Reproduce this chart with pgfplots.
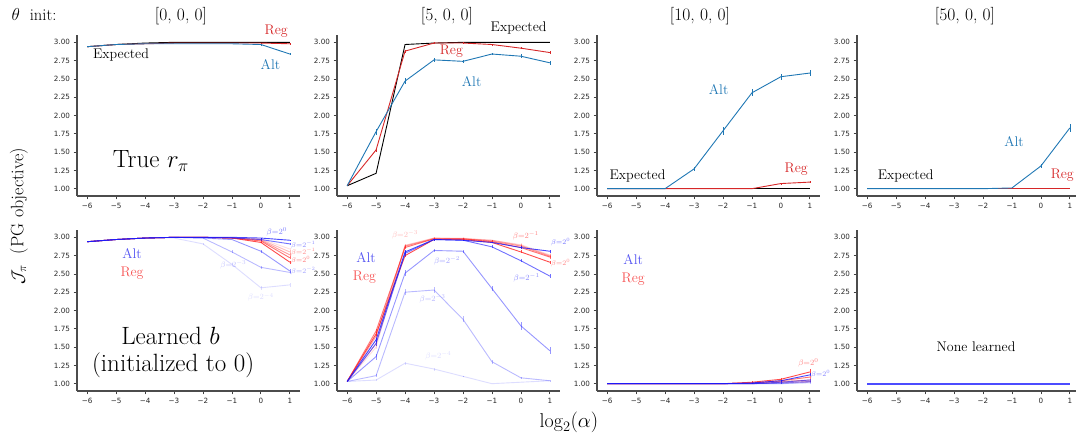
\documentclass[border=0pt]{standalone}
\usepackage{fontspec}
\usepackage{pgfplots}
\pgfplotsset{compat=1.18}
\newfontfamily\dejavu{DejaVu Sans}
\definecolor{tabblue}{HTML}{1F77B4}
\definecolor{tabred}{HTML}{D62728}
\definecolor{lb}{rgb}{0.1,0.1,1}
\definecolor{lr}{rgb}{1,0.12,0.12}
\definecolor{flatb}{rgb}{0.3,0.3,1}
\definecolor{altc}{rgb}{0.33,0.33,0.95}
\definecolor{regc}{rgb}{0.97,0.33,0.33}
\newcommand{\fs}[1]{\fontsize{#1}{#1}\selectfont}
\newcommand{\bl}[1]{$\beta$=$2^{#1}$}
\pgfplotsset{
 panel/.style={scale only axis, width=223pt, height=161pt,
  xmin=-6.35, xmax=1.35, ymin=0.9, ymax=3.1,
  axis x line*=bottom, axis y line*=left,
  axis line style={draw=black!70, line width=1.1pt},
  xtick={-6,-5,-4,-3,-2,-1,0,1},
  xticklabels={−6,−5,−4,−3,−2,−1,0,1},
  ytick={1,1.25,1.5,1.75,2,2.25,2.5,2.75,3},
  yticklabels={1.00,1.25,1.50,1.75,2.00,2.25,2.50,2.75,3.00},
  tick align=outside, major tick length=3.5pt,
  tick style={black!75, line width=0.8pt},
  ticklabel style={font=\dejavu\fs{7.2}, text=black!85},
  clip=false, anchor=south west},
 eb/.style={error bars/y dir=both, error bars/y explicit, error bars/error mark=none},
 tl/.style={line width=0.9pt},
 B0/.style={draw=lb, draw opacity=0.8, line width=0.9pt, eb},
 B1/.style={draw=lb, draw opacity=0.62, line width=0.9pt, eb},
 B2/.style={draw=lb, draw opacity=0.45, line width=0.9pt, eb},
 B3/.style={draw=lb, draw opacity=0.3, line width=0.9pt, eb},
 B4/.style={draw=lb, draw opacity=0.15, line width=0.9pt, eb},
 R0/.style={draw=lr, draw opacity=0.8, line width=0.9pt, eb},
 R1/.style={draw=lr, draw opacity=0.62, line width=0.9pt, eb},
 R2/.style={draw=lr, draw opacity=0.45, line width=0.9pt, eb},
 R3/.style={draw=lr, draw opacity=0.3, line width=0.9pt, eb},
 R4/.style={draw=lr, draw opacity=0.15, line width=0.9pt, eb},
}
\begin{document}
\begin{tikzpicture}
\useasboundingbox (0,0) rectangle (1076pt,436pt);
\node[font=\fs{16.5}] at (34pt,421pt) {$\theta$\ \ init:};
\node[font=\fs{17.5}] at (181pt,420pt) {[0, 0, 0]};
\node[font=\fs{17.5}] at (447pt,420pt) {[5, 0, 0]};
\node[font=\fs{17.5}] at (700pt,420pt) {[10, 0, 0]};
\node[font=\fs{17.5}] at (965pt,420pt) {[50, 0, 0]};
\node[font=\fs{18}, rotate=90] at (19pt,220pt) {$\mathcal{J}_\pi$\ \ (PG objective)};
\node[font=\fs{20}] at (569pt,14pt) {$\log_2(\alpha)$};

% ===== top 1 =====
\begin{axis}[panel, at={(77pt,240pt)}]
\addplot[black, tl] coordinates {(-6,2.94)(-5,2.97)(-4,2.99)(-3,3.0)(-2,3.0)(-1,3.0)(0,3.0)(1,3.0)};
\addplot[tabred, tl, eb] coordinates {(-6,2.94)+-(0,0)(-5,2.97)+-(0,0)(-4,2.98)+-(0,0)(-3,2.99)+-(0,0)(-2,2.99)+-(0,0)(-1,2.99)+-(0,0)(0,2.99)+-(0,0.005)(1,2.98)+-(0,0.008)};
\addplot[tabblue, tl, eb] coordinates {(-6,2.94)+-(0,0)(-5,2.97)+-(0,0)(-4,2.98)+-(0,0)(-3,2.98)+-(0,0)(-2,2.98)+-(0,0)(-1,2.98)+-(0,0)(0,2.97)+-(0,0.01)(1,2.84)+-(0,0.015)};
\node[font=\fs{14}, text=tabred] at (axis cs:0.53,3.15) {Reg};
\node[font=\fs{14}, text=tabblue] at (axis cs:0.33,2.70) {Alt};
\node[font=\fs{14}] at (axis cs:-4.83,2.82) {Expected};
\node[font=\fs{25}] at (axis cs:-3.8,1.38) {True $r_\pi$};
\end{axis}

% ===== top 2 =====
\begin{axis}[panel, at={(337pt,240pt)}]
\addplot[black, tl] coordinates {(-6,1.04)(-5,1.21)(-4,2.97)(-3,2.99)(-2,3.0)(-1,3.0)(0,3.0)(1,3.0)};
\addplot[tabred, tl, eb] coordinates {(-6,1.04)+-(0,0)(-5,1.53)+-(0,0.03)(-4,2.88)+-(0,0.02)(-3,2.99)+-(0,0.01)(-2,2.99)+-(0,0.01)(-1,2.97)+-(0,0.01)(0,2.92)+-(0,0.01)(1,2.86)+-(0,0.02)};
\addplot[tabblue, tl, eb] coordinates {(-6,1.04)+-(0,0)(-5,1.78)+-(0,0.04)(-4,2.47)+-(0,0.04)(-3,2.76)+-(0,0.03)(-2,2.74)+-(0,0.02)(-1,2.84)+-(0,0.02)(0,2.81)+-(0,0.03)(1,2.72)+-(0,0.03)};
\node[font=\fs{14}] at (axis cs:-0.08,3.19) {Expected};
\node[font=\fs{14}, text=tabred] at (axis cs:-2.4,2.88) {Reg};
\node[font=\fs{14}, text=tabblue] at (axis cs:-1.7,2.47) {Alt};
\end{axis}

% ===== top 3 =====
\begin{axis}[panel, at={(597pt,240pt)}]
\addplot[black, tl] coordinates {(-6,1)(-5,1)(-4,1)(-3,1)(-2,1)(-1,1)(0,1)(1,1)};
\addplot[tabred, tl, eb] coordinates {(-6,1)+-(0,0)(-5,1)+-(0,0)(-4,1)+-(0,0)(-3,1)+-(0,0)(-2,1)+-(0,0)(-1,1)+-(0,0)(0,1.07)+-(0,0.01)(1,1.09)+-(0,0.015)};
\addplot[tabblue, tl, eb] coordinates {(-6,1)+-(0,0)(-5,1)+-(0,0)(-4,1)+-(0,0)(-3,1.27)+-(0,0.03)(-2,1.79)+-(0,0.05)(-1,2.31)+-(0,0.05)(0,2.53)+-(0,0.04)(1,2.58)+-(0,0.04)};
\node[font=\fs{14}, text=tabblue] at (axis cs:-2.15,2.36) {Alt};
\node[font=\fs{14}, text=tabred] at (axis cs:0.53,1.26) {Reg};
\node[font=\fs{14}] at (axis cs:-4.95,1.17) {Expected};
\end{axis}

% ===== top 4 =====
\begin{axis}[panel, at={(857pt,240pt)}]
\addplot[black, tl] coordinates {(-6,1)(-5,1)(-4,1)(-3,1)(-2,1)(-1,1)(0,1)(1,1)};
\addplot[tabred, tl] coordinates {(-6,1)(-5,1)(-4,1)(-3,1)(-2,1)(-1,1)(0,1)(1,1)};
\addplot[tabblue, tl, eb] coordinates {(-6,1)+-(0,0)(-5,1)+-(0,0)(-4,1)+-(0,0)(-3,1)+-(0,0)(-2,1)+-(0,0)(-1,1.01)+-(0,0)(0,1.31)+-(0,0.03)(1,1.83)+-(0,0.06)};
\node[font=\fs{14}, text=tabblue] at (axis cs:-0.93,1.64) {Alt};
\node[font=\fs{14}] at (axis cs:-4.67,1.18) {Expected};
\node[font=\fs{14}, text=tabred] at (axis cs:0.74,1.18) {Reg};
\end{axis}

% ===== bottom 1 =====
\begin{axis}[panel, at={(77pt,45pt)}]
\addplot[R4] coordinates {(-6,2.94)+-(0,0)(-5,2.97)+-(0,0)(-4,2.99)+-(0,0)(-3,3.0)+-(0,0)(-2,3.0)+-(0,0)(-1,2.99)+-(0,0)(0,2.98)+-(0,0.01)(1,2.84)+-(0,0.02)};
\addplot[R3] coordinates {(-6,2.94)+-(0,0)(-5,2.97)+-(0,0)(-4,2.99)+-(0,0)(-3,3.0)+-(0,0)(-2,3.0)+-(0,0)(-1,2.99)+-(0,0)(0,2.97)+-(0,0.01)(1,2.80)+-(0,0.02)};
\addplot[R2] coordinates {(-6,2.94)+-(0,0)(-5,2.97)+-(0,0)(-4,2.99)+-(0,0)(-3,3.0)+-(0,0)(-2,3.0)+-(0,0)(-1,2.99)+-(0,0)(0,2.96)+-(0,0.01)(1,2.76)+-(0,0.02)};
\addplot[R1] coordinates {(-6,2.94)+-(0,0)(-5,2.97)+-(0,0)(-4,2.99)+-(0,0)(-3,3.0)+-(0,0)(-2,3.0)+-(0,0)(-1,2.99)+-(0,0)(0,2.95)+-(0,0.01)(1,2.72)+-(0,0.02)};
\addplot[R0] coordinates {(-6,2.94)+-(0,0)(-5,2.97)+-(0,0)(-4,2.99)+-(0,0)(-3,3.0)+-(0,0)(-2,3.0)+-(0,0)(-1,2.99)+-(0,0)(0,2.93)+-(0,0.01)(1,2.66)+-(0,0.02)};
\addplot[B4] coordinates {(-6,2.94)+-(0,0)(-5,2.97)+-(0,0)(-4,2.99)+-(0,0)(-3,2.99)+-(0,0)(-2,2.91)+-(0,0.01)(-1,2.63)+-(0,0.02)(0,2.31)+-(0,0.03)(1,2.35)+-(0,0.03)};
\addplot[B3] coordinates {(-6,2.94)+-(0,0)(-5,2.97)+-(0,0)(-4,2.99)+-(0,0)(-3,3.0)+-(0,0)(-2,2.99)+-(0,0)(-1,2.80)+-(0,0.02)(0,2.59)+-(0,0.02)(1,2.52)+-(0,0.02)};
\addplot[B2] coordinates {(-6,2.94)+-(0,0)(-5,2.97)+-(0,0)(-4,2.99)+-(0,0)(-3,3.0)+-(0,0)(-2,2.99)+-(0,0)(-1,2.97)+-(0,0)(0,2.81)+-(0,0.02)(1,2.54)+-(0,0.03)};
\addplot[B1] coordinates {(-6,2.94)+-(0,0)(-5,2.97)+-(0,0)(-4,2.99)+-(0,0)(-3,3.0)+-(0,0)(-2,3.0)+-(0,0)(-1,2.99)+-(0,0)(0,2.97)+-(0,0.01)(1,2.91)+-(0,0.015)};
\addplot[B0] coordinates {(-6,2.94)+-(0,0)(-5,2.97)+-(0,0)(-4,2.99)+-(0,0)(-3,3.0)+-(0,0)(-2,3.0)+-(0,0)(-1,3.0)+-(0,0)(0,2.99)+-(0,0.005)(1,2.96)+-(0,0.01)};
\node[font=\fs{14}, text=altc] at (axis cs:-4.45,2.78) {Alt};
\node[font=\fs{14}, text=regc] at (axis cs:-4.45,2.51) {Reg};
\node[font=\fs{25}] at (axis cs:-3.12,1.65) {Learned $b$};
\node[font=\fs{25}] at (axis cs:-3.03,1.245) {(initialized to 0)};
\node[font=\fs{8}, text=lb, text opacity=0.55] at (axis cs:0.55,3.08) {\bl{0}};
\node[font=\fs{7.5}, text=lb, text opacity=0.5, anchor=west, inner sep=0pt] at (axis cs:1.04,2.895) {\bl{-1}};
\node[font=\fs{7.5}, text=lr, text opacity=0.5, anchor=west, inner sep=0pt] at (axis cs:1.04,2.80) {\bl{-1}};
\node[font=\fs{7.5}, text=lr, text opacity=0.6, anchor=west, inner sep=0pt] at (axis cs:1.04,2.69) {\bl{0}};
\node[font=\fs{7.5}, text=lb, text opacity=0.4, anchor=west, inner sep=0pt] at (axis cs:1.04,2.54) {\bl{-2}};
\node[font=\fs{8}, text=lb, text opacity=0.25] at (axis cs:-0.95,2.62) {\bl{-3}};
\node[font=\fs{8}, text=lb, text opacity=0.15] at (axis cs:0.0,2.18) {\bl{-4}};
\end{axis}

% ===== bottom 2 =====
\begin{axis}[panel, at={(337pt,45pt)}]
\addplot[R4] coordinates {(-6,1.03)+-(0,0)(-5,1.50)+-(0,0.03)(-4,2.87)+-(0,0.02)(-3,2.99)+-(0,0.01)(-2,2.99)+-(0,0.01)(-1,2.96)+-(0,0.01)(0,2.90)+-(0,0.02)(1,2.76)+-(0,0.02)};
\addplot[R3] coordinates {(-6,1.03)+-(0,0)(-5,1.55)+-(0,0.03)(-4,2.89)+-(0,0.02)(-3,2.99)+-(0,0.01)(-2,2.98)+-(0,0.01)(-1,2.96)+-(0,0.01)(0,2.89)+-(0,0.02)(1,2.75)+-(0,0.02)};
\addplot[R2] coordinates {(-6,1.03)+-(0,0)(-5,1.65)+-(0,0.03)(-4,2.88)+-(0,0.02)(-3,2.98)+-(0,0.01)(-2,2.98)+-(0,0.01)(-1,2.95)+-(0,0.01)(0,2.88)+-(0,0.02)(1,2.74)+-(0,0.02)};
\addplot[R1] coordinates {(-6,1.03)+-(0,0)(-5,1.72)+-(0,0.03)(-4,2.86)+-(0,0.02)(-3,2.98)+-(0,0.01)(-2,2.98)+-(0,0.01)(-1,2.94)+-(0,0.01)(0,2.86)+-(0,0.02)(1,2.73)+-(0,0.02)};
\addplot[R0] coordinates {(-6,1.03)+-(0,0)(-5,1.68)+-(0,0.03)(-4,2.75)+-(0,0.02)(-3,2.97)+-(0,0.01)(-2,2.97)+-(0,0.01)(-1,2.93)+-(0,0.01)(0,2.80)+-(0,0.02)(1,2.66)+-(0,0.02)};
\addplot[B4] coordinates {(-6,1.03)+-(0,0)(-5,1.05)+-(0,0.01)(-4,1.28)+-(0,0.02)(-3,1.20)+-(0,0.02)(-2,1.10)+-(0,0.01)(-1,1.00)+-(0,0)(0,1.02)+-(0,0)(1,1.04)+-(0,0)};
\addplot[B3] coordinates {(-6,1.03)+-(0,0)(-5,1.11)+-(0,0.02)(-4,2.25)+-(0,0.04)(-3,2.28)+-(0,0.04)(-2,1.88)+-(0,0.04)(-1,1.30)+-(0,0.03)(0,1.08)+-(0,0.01)(1,1.04)+-(0,0.01)};
\addplot[B2] coordinates {(-6,1.03)+-(0,0)(-5,1.37)+-(0,0.04)(-4,2.51)+-(0,0.04)(-3,2.82)+-(0,0.02)(-2,2.81)+-(0,0.02)(-1,2.30)+-(0,0.04)(0,1.79)+-(0,0.05)(1,1.45)+-(0,0.05)};
\addplot[B1] coordinates {(-6,1.03)+-(0,0)(-5,1.55)+-(0,0.03)(-4,2.78)+-(0,0.03)(-3,2.97)+-(0,0.01)(-2,2.96)+-(0,0.01)(-1,2.87)+-(0,0.02)(0,2.68)+-(0,0.02)(1,2.47)+-(0,0.03)};
\addplot[B0] coordinates {(-6,1.03)+-(0,0)(-5,1.60)+-(0,0.03)(-4,2.80)+-(0,0.03)(-3,2.97)+-(0,0.01)(-2,2.96)+-(0,0.01)(-1,2.93)+-(0,0.01)(0,2.86)+-(0,0.02)(1,2.81)+-(0,0.02)};
\node[font=\fs{14}, text=altc] at (axis cs:-5.35,2.73) {Alt};
\node[font=\fs{14}, text=regc] at (axis cs:-5.4,2.46) {Reg};
\node[font=\fs{8}, text=lr, text opacity=0.3] at (axis cs:-4.0,3.03) {\bl{-3}};
\node[font=\fs{8}, text=lr, text opacity=0.55] at (axis cs:0.17,3.02) {\bl{-1}};
\node[font=\fs{7.5}, text=lb, text opacity=0.6, anchor=west, inner sep=0pt] at (axis cs:1.04,2.93) {\bl{0}};
\node[font=\fs{7.5}, text=lr, text opacity=0.55, anchor=west, inner sep=0pt] at (axis cs:1.04,2.65) {\bl{0}};
\node[font=\fs{8}, text=lb, text opacity=0.4] at (axis cs:-2.55,2.68) {\bl{-2}};
\node[font=\fs{8}, text=lb, text opacity=0.5] at (axis cs:0.2,2.45) {\bl{-1}};
\node[font=\fs{8}, text=lb, text opacity=0.3] at (axis cs:-3.05,2.16) {\bl{-3}};
\node[font=\fs{8}, text=lb, text opacity=0.15] at (axis cs:-2.85,1.38) {\bl{-4}};
\end{axis}

% ===== bottom 3 =====
\begin{axis}[panel, at={(597pt,45pt)}]
\addplot[R4] coordinates {(-6,1)+-(0,0)(-5,1)+-(0,0)(-4,1)+-(0,0)(-3,1)+-(0,0)(-2,1)+-(0,0)(-1,1.0)+-(0,0)(0,1.01)+-(0,0.005)(1,1.02)+-(0,0.01)};
\addplot[R3] coordinates {(-6,1)+-(0,0)(-5,1)+-(0,0)(-4,1)+-(0,0)(-3,1)+-(0,0)(-2,1)+-(0,0)(-1,1.0)+-(0,0)(0,1.02)+-(0,0.005)(1,1.03)+-(0,0.01)};
\addplot[R2] coordinates {(-6,1)+-(0,0)(-5,1)+-(0,0)(-4,1)+-(0,0)(-3,1)+-(0,0)(-2,1)+-(0,0)(-1,1.01)+-(0,0)(0,1.03)+-(0,0.01)(1,1.05)+-(0,0.015)};
\addplot[R1] coordinates {(-6,1)+-(0,0)(-5,1)+-(0,0)(-4,1)+-(0,0)(-3,1)+-(0,0)(-2,1)+-(0,0)(-1,1.01)+-(0,0.01)(0,1.04)+-(0,0.015)(1,1.09)+-(0,0.02)};
\addplot[R0] coordinates {(-6,1)+-(0,0)(-5,1)+-(0,0)(-4,1)+-(0,0)(-3,1)+-(0,0)(-2,1)+-(0,0)(-1,1.02)+-(0,0.01)(0,1.06)+-(0,0.02)(1,1.16)+-(0,0.04)};
\addplot[B4] coordinates {(-6,1)+-(0,0)(-5,1)+-(0,0)(-4,1)+-(0,0)(-3,1)+-(0,0)(-2,1)+-(0,0)(-1,1.0)+-(0,0)(0,1.0)+-(0,0)(1,1.01)+-(0,0.005)};
\addplot[B3] coordinates {(-6,1)+-(0,0)(-5,1)+-(0,0)(-4,1)+-(0,0)(-3,1)+-(0,0)(-2,1)+-(0,0)(-1,1.0)+-(0,0)(0,1.0)+-(0,0)(1,1.02)+-(0,0.005)};
\addplot[B2] coordinates {(-6,1)+-(0,0)(-5,1)+-(0,0)(-4,1)+-(0,0)(-3,1)+-(0,0)(-2,1)+-(0,0)(-1,1.0)+-(0,0)(0,1.01)+-(0,0.005)(1,1.03)+-(0,0.01)};
\addplot[B1] coordinates {(-6,1)+-(0,0)(-5,1)+-(0,0)(-4,1)+-(0,0)(-3,1)+-(0,0)(-2,1)+-(0,0)(-1,1.0)+-(0,0)(0,1.02)+-(0,0.01)(1,1.05)+-(0,0.01)};
\addplot[B0] coordinates {(-6,1)+-(0,0)(-5,1)+-(0,0)(-4,1)+-(0,0)(-3,1)+-(0,0)(-2,1)+-(0,0)(-1,1.01)+-(0,0.005)(0,1.04)+-(0,0.01)(1,1.12)+-(0,0.02)};
\node[font=\fs{14}, text=altc] at (axis cs:-5.1,2.70) {Alt};
\node[font=\fs{14}, text=regc] at (axis cs:-5.1,2.43) {Reg};
\node[font=\fs{8}, text=lr, text opacity=0.55] at (axis cs:0.95,1.29) {\bl{0}};
\node[font=\fs{7.5}, text=lb, text opacity=0.55, anchor=west, inner sep=0pt] at (axis cs:1.04,1.13) {\bl{0}};
\end{axis}

% ===== bottom 4 =====
\begin{axis}[panel, at={(857pt,45pt)}]
\addplot[draw=flatb, line width=1.7pt] coordinates {(-6,1)(-5,1)(-4,1)(-3,1)(-2,1)(-1,1)(0,1)(1,1)};
\node[font=\fs{14}] at (axis cs:-2.24,1.50) {None learned};
\end{axis}
\end{tikzpicture}
\end{document}
